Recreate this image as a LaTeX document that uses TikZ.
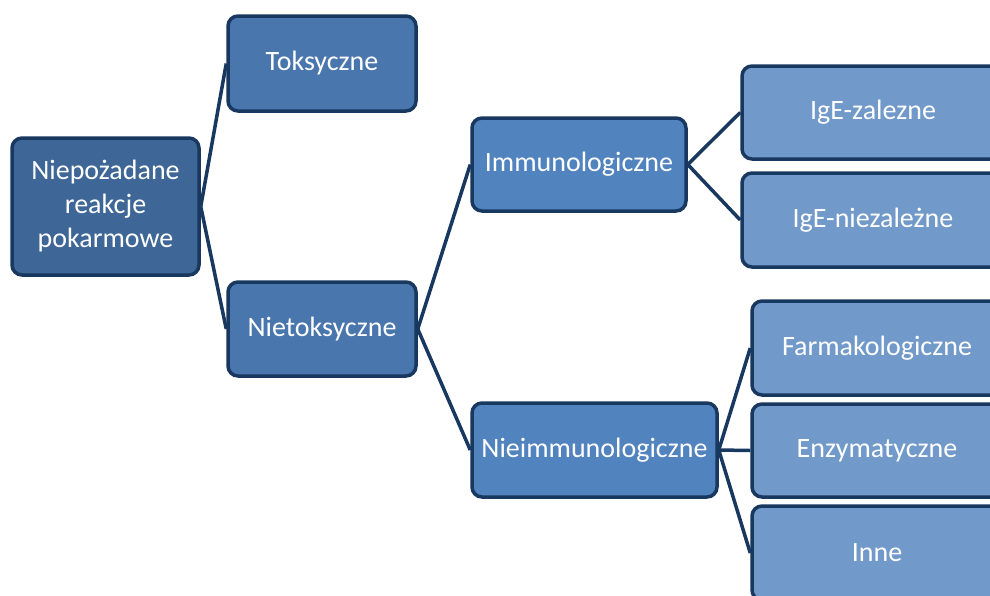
\documentclass[tikz,border=0pt]{standalone}
\usepackage{fontspec}
\setmainfont{Carlito}
\definecolor{lineC}{RGB}{24,56,96}
\definecolor{fillA}{RGB}{62,102,150}
\definecolor{fillB}{RGB}{74,118,174}
\definecolor{fillC}{RGB}{81,131,191}
\definecolor{fillD}{RGB}{113,153,201}
\tikzset{
  box/.style={draw=lineC, line width=3.5pt, rounded corners=10pt, text=white,
    font=\fontsize{28}{34}\selectfont, align=center, inner sep=0pt},
  conn/.style={draw=lineC, line width=3.5pt}
}
\begin{document}
\begin{tikzpicture}[x=1pt,y=-1pt]
\useasboundingbox (0,0) rectangle (990,595);
\clip (0,0) rectangle (990,595);
\node[box, fill=fillA, minimum width=187pt, minimum height=137pt] (root) at (105.5,206.5) {Niepożadane\\reakcje\\pokarmowe};
\node[box, fill=fillB, minimum width=188pt, minimum height=95pt] (tok) at (322,63.5) {Toksyczne};
\node[box, fill=fillB, minimum width=188pt, minimum height=94pt] (niet) at (322,329) {Nietoksyczne};
\node[box, fill=fillC, minimum width=214pt, minimum height=93pt] (imm) at (579,164.5) {Immunologiczne};
\node[box, fill=fillC, minimum width=245pt, minimum height=94pt] (nieimm) at (594.5,450) {Nieimmunologiczne};
\node[box, fill=fillD, minimum width=262pt, minimum height=93pt] (ige1) at (873,112.5) {IgE-zalezne};
\node[box, fill=fillD, minimum width=262pt, minimum height=94pt] (ige2) at (873,220) {IgE-niezależne};
\node[box, fill=fillD, minimum width=250pt, minimum height=94pt] (farm) at (877,348) {Farmakologiczne};
\node[box, fill=fillD, minimum width=250pt, minimum height=93pt] (enz) at (877,450.5) {Enzymatyczne};
\node[box, fill=fillD, minimum width=250pt, minimum height=94pt] (inne) at (877,553) {Inne};
\draw[conn] (root.east) -- (tok.west);
\draw[conn] (root.east) -- (niet.west);
\draw[conn] (niet.east) -- (imm.west);
\draw[conn] (niet.east) -- (nieimm.west);
\draw[conn] (imm.east) -- (ige1.west);
\draw[conn] (imm.east) -- (ige2.west);
\draw[conn] (nieimm.east) -- (farm.west);
\draw[conn] (nieimm.east) -- (enz.west);
\draw[conn] (nieimm.east) -- (inne.west);
\end{tikzpicture}
\end{document}
